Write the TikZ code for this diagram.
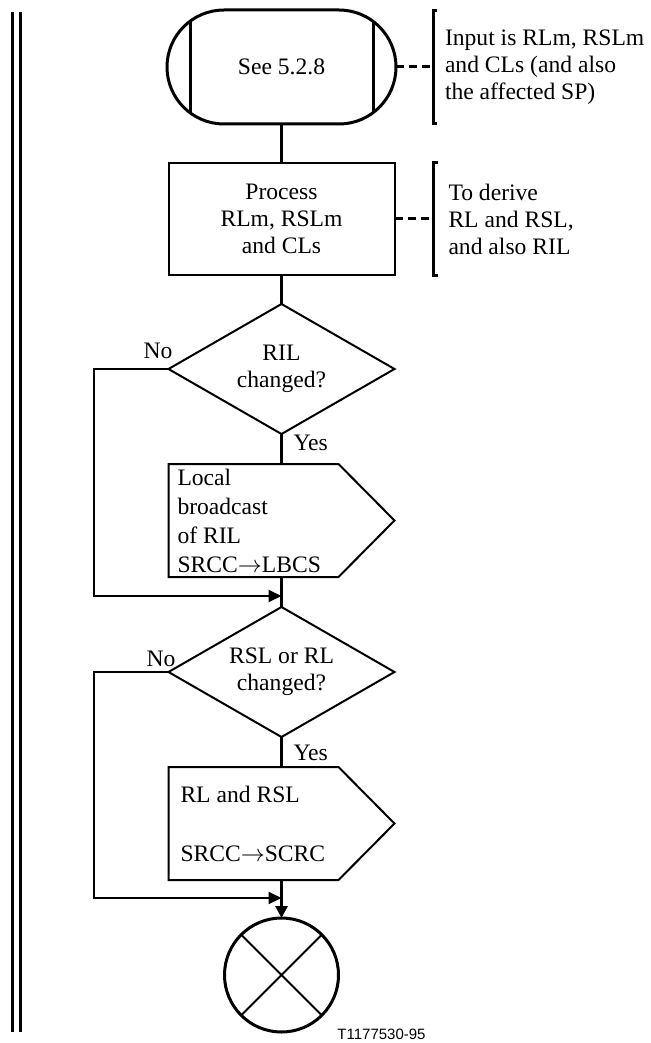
\documentclass[tikz,border=0pt]{standalone}
\usepackage{fontspec}
\setmainfont{Liberation Serif}
\newfontfamily\tagfont{Liberation Sans}
\usepackage{tikz}
\usetikzlibrary{positioning}
\usetikzlibrary{arrows.meta, shapes.geometric}

\begin{document}
\begin{tikzpicture}[
        x=0.5pt, y=-0.5pt,
        node distance=15pt and 18.5pt,
        every node/.style={outer sep=0pt, font=\fontsize{11.8}{13.5}\selectfont},
        terminal/.style={draw, line width=1.5pt, minimum width=114.5pt, minimum height=57pt, rounded corners=28.5pt,
            path picture={\draw[line width=1.5pt]
                ([xshift=11.5pt]path picture bounding box.north west) -- ([xshift=11.5pt]path picture bounding box.south west)
                ([xshift=-11.5pt]path picture bounding box.north east) -- ([xshift=-11.5pt]path picture bounding box.south east);}},
        process/.style={draw, line width=1pt, minimum width=113pt, minimum height=56pt, align=center},
        decision/.style={draw, diamond, line width=1pt, aspect=1.74, minimum width=113pt, minimum height=65pt, inner sep=0pt, align=center},
        sigbox/.style={minimum width=113pt, minimum height=56.5pt, inner ysep=0pt, align=flush left},
        sigline/.style={line width=1pt},
        note/.style={minimum height=56.5pt, inner xsep=6pt, inner ysep=0pt, align=left},
        bracket/.style={line width=1.5pt},
        dashline/.style={line width=1.5pt, dash pattern=on 4pt off 2.5pt},
        connector/.style={draw, circle, line width=1.5pt, minimum size=57pt, inner sep=0pt,
            path picture={\draw[line width=1pt]
                (path picture bounding box.north west) -- (path picture bounding box.south east)
                (path picture bounding box.north east) -- (path picture bounding box.south west);}},
        flow/.style={line width=1.5pt},
        bypass/.style={line width=1pt, -{Triangle[length=6.5pt, width=6pt]}},
        answer/.style={inner sep=0pt}
    ]

    % Frame
    \useasboundingbox (0,0) rectangle (651,1043);
    \draw[line width=1.5pt] (12.3,12) -- (12.3,1032) (20,12) -- (20,1032);

    % Nodes
    \node[terminal] (start) at (281.5,67) {See 5.2.8};
    \node[process] (process) [below=19.5pt of start] {Process\\RLm, RSLm\\and CLs};
    \node[decision] (ril) [below=14.5pt of process] {RIL\\changed?};
    \node[sigbox, text width=104pt, inner xsep=4.5pt, font=\fontsize{11.8}{14.5}\selectfont] (lbcs) [below=of ril]
        {Local\\broadcast\\of RIL\\SRCC$\rightarrow$LBCS};
    \node[decision] (rsl) [below=of lbcs] {RSL or RL\\changed?};
    \node[sigbox, text width=101pt, inner xsep=6pt, font=\fontsize{11.8}{14.75}\selectfont] (scrc) [below=of rsl]
        {RL and RSL\\\mbox{}\\SRCC$\rightarrow$SCRC};
    \node[connector] (join) [below=19pt of scrc] {};

    \node[note] (input) [right=of start] {Input is RLm, RSLm\\and CLs (and also\\the affected SP)};
    \node[note, inner xsep=7.5pt] (derive) [right=19.5pt of process] {To derive\\RL and RSL,\\and also RIL};

    \node[answer, anchor=south east, xshift=2pt, yshift=5pt] (no1) at (ril.west) {No};
    \node[answer, anchor=north west, xshift=6pt, yshift=-0.5pt] (yes1) at (ril.south) {Yes};
    \node[answer, anchor=south east, xshift=3.5pt, yshift=2.5pt] (no2) at (rsl.west) {No};
    \node[answer, anchor=north west, xshift=6pt, yshift=-4pt] (yes2) at (rsl.south) {Yes};

    \coordinate[below=9.5pt of lbcs] (merge1);
    \coordinate[below=9pt of scrc] (merge2);

    \node[font=\tagfont\fontsize{7.5}{9}\selectfont, inner sep=0pt] (tag) at (381.5,1034) {T1177530-95};

    % Signal outlines
    \foreach \s in {lbcs, scrc}
        \draw[sigline] (\s.north west) -- ([xshift=-28pt]\s.north east) -- (\s.east)
            -- ([xshift=-28pt]\s.south east) -- (\s.south west) -- cycle;

    % Brackets
    \foreach \n in {input, derive}
        \draw[bracket] ([xshift=2pt]\n.north west) -- (\n.north west) -- (\n.south west) -- ([xshift=2pt]\n.south west);

    % Edges
    \draw[dashline] (start.east) -- (input.west);
    \draw[dashline] (process.east) -- (derive.west);
    \draw[flow] (start) -- (process);
    \draw[flow] (process) -- (ril);
    \draw[flow] (ril) -- (lbcs);
    \draw[flow] (lbcs) -- (rsl);
    \draw[flow] (rsl) -- (scrc);
    \draw[flow, -{Triangle[length=6pt, width=6pt]}] (scrc) -- (join);
    \draw[bypass] (ril.west) -- ++(-75,0) |- (merge1);
    \draw[bypass] (rsl.west) -- ++(-75,0) |- (merge2);
\end{tikzpicture}
\end{document}
